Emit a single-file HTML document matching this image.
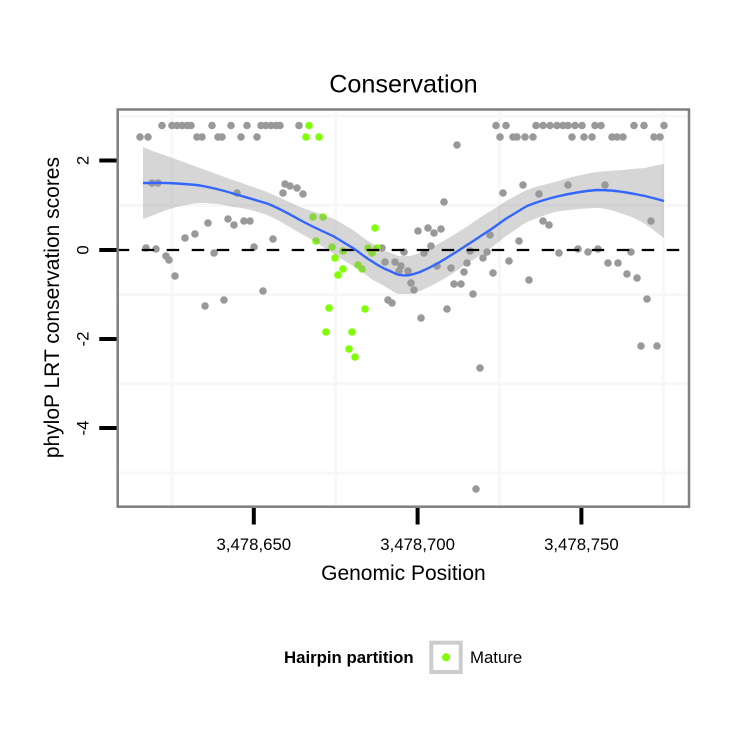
<!DOCTYPE html>
<html>
<head>
<meta charset="utf-8">
<style>
html,body{margin:0;padding:0;background:#fff;}
svg{display:block;}
text{font-family:"Liberation Sans",Arial,sans-serif;fill:#000;}
</style>
</head>
<body>
<svg width="750" height="750" viewBox="0 0 750 750" xmlns="http://www.w3.org/2000/svg">
<defs>
<clipPath id="pc"><rect x="117.7" y="109.5" width="571.3" height="397.2"/></clipPath>
</defs>
<rect width="750" height="750" fill="#fff"/>

<!-- title -->
<text x="403.4" y="92.5" font-size="25.2" text-anchor="middle">Conservation</text>

<g clip-path="url(#pc)">
<!-- gridlines -->
<g stroke="#f7f7f7" stroke-width="3">
<line x1="172" y1="105" x2="172" y2="510"/>
<line x1="335.7" y1="105" x2="335.7" y2="510"/>
<line x1="499.5" y1="105" x2="499.5" y2="510"/>
<line x1="663.3" y1="105" x2="663.3" y2="510"/>
<line x1="115" y1="116.2" x2="692" y2="116.2"/>
<line x1="115" y1="205.4" x2="692" y2="205.4"/>
<line x1="115" y1="294.6" x2="692" y2="294.6"/>
<line x1="115" y1="383.8" x2="692" y2="383.8"/>
<line x1="115" y1="473" x2="692" y2="473"/>
</g>

<!-- grey points -->
<g fill="#999999">
<circle cx="162" cy="125.5" r="3.8"/><circle cx="172" cy="125.5" r="3.8"/><circle cx="177" cy="125.5" r="3.8"/><circle cx="182" cy="125.5" r="3.8"/><circle cx="187" cy="125.5" r="3.8"/><circle cx="191" cy="125.5" r="3.8"/><circle cx="212" cy="125.5" r="3.8"/><circle cx="231" cy="125.5" r="3.8"/><circle cx="247" cy="125.5" r="3.8"/><circle cx="261" cy="125.5" r="3.8"/><circle cx="266" cy="125.5" r="3.8"/><circle cx="271" cy="125.5" r="3.8"/><circle cx="276" cy="125.5" r="3.8"/><circle cx="280" cy="125.5" r="3.8"/><circle cx="299" cy="125.5" r="3.8"/>
<circle cx="140" cy="137" r="3.8"/><circle cx="148" cy="137" r="3.8"/><circle cx="197" cy="137" r="3.8"/><circle cx="202" cy="137" r="3.8"/><circle cx="218" cy="137" r="3.8"/><circle cx="222" cy="137" r="3.8"/><circle cx="241" cy="137" r="3.8"/><circle cx="257" cy="137" r="3.8"/>
<circle cx="496" cy="125.5" r="3.8"/><circle cx="506" cy="125.5" r="3.8"/><circle cx="536" cy="125.5" r="3.8"/><circle cx="543" cy="125.5" r="3.8"/><circle cx="550" cy="125.5" r="3.8"/><circle cx="557" cy="125.5" r="3.8"/><circle cx="563" cy="125.5" r="3.8"/><circle cx="568" cy="125.5" r="3.8"/><circle cx="575" cy="125.5" r="3.8"/><circle cx="582" cy="125.5" r="3.8"/><circle cx="595" cy="125.5" r="3.8"/><circle cx="601" cy="125.5" r="3.8"/><circle cx="634" cy="125.5" r="3.8"/><circle cx="644" cy="125.5" r="3.8"/><circle cx="664" cy="125.5" r="3.8"/>
<circle cx="500" cy="137" r="3.8"/><circle cx="513" cy="137" r="3.8"/><circle cx="517" cy="137" r="3.8"/><circle cx="525" cy="137" r="3.8"/><circle cx="533" cy="137" r="3.8"/><circle cx="572" cy="137" r="3.8"/><circle cx="584" cy="137" r="3.8"/><circle cx="592" cy="137" r="3.8"/><circle cx="612" cy="137" r="3.8"/><circle cx="617" cy="137" r="3.8"/><circle cx="623" cy="137" r="3.8"/><circle cx="654" cy="137" r="3.8"/><circle cx="660" cy="137" r="3.8"/>
<circle cx="152" cy="183" r="3.8"/><circle cx="158" cy="183" r="3.8"/><circle cx="146" cy="248" r="3.8"/><circle cx="156" cy="249" r="3.8"/><circle cx="166" cy="256" r="3.8"/><circle cx="169" cy="260" r="3.8"/><circle cx="175" cy="276" r="3.8"/><circle cx="185" cy="238" r="3.8"/><circle cx="195" cy="234" r="3.8"/><circle cx="205" cy="306" r="3.8"/><circle cx="208" cy="223" r="3.8"/><circle cx="214" cy="253" r="3.8"/><circle cx="224" cy="300" r="3.8"/><circle cx="228" cy="219" r="3.8"/><circle cx="234" cy="225" r="3.8"/><circle cx="244" cy="221" r="3.8"/><circle cx="250" cy="221" r="3.8"/><circle cx="254" cy="247" r="3.8"/><circle cx="263" cy="291" r="3.8"/><circle cx="273" cy="239" r="3.8"/><circle cx="237" cy="193" r="3.8"/><circle cx="283" cy="193" r="3.8"/><circle cx="285" cy="184" r="3.8"/><circle cx="290" cy="186" r="3.8"/><circle cx="297" cy="188" r="3.8"/><circle cx="303" cy="194" r="3.8"/>
<circle cx="382" cy="248" r="3.8"/><circle cx="385" cy="262" r="3.8"/><circle cx="388" cy="300" r="3.8"/><circle cx="392" cy="303" r="3.8"/><circle cx="395" cy="262" r="3.8"/><circle cx="399" cy="271" r="3.8"/><circle cx="401" cy="266" r="3.8"/><circle cx="404" cy="252" r="3.8"/><circle cx="408" cy="271" r="3.8"/><circle cx="411" cy="283" r="3.8"/><circle cx="414" cy="290" r="3.8"/><circle cx="418" cy="231" r="3.8"/><circle cx="421" cy="318" r="3.8"/><circle cx="424" cy="253" r="3.8"/><circle cx="428" cy="228" r="3.8"/><circle cx="431" cy="246" r="3.8"/><circle cx="434" cy="233" r="3.8"/><circle cx="437" cy="266" r="3.8"/><circle cx="441" cy="229" r="3.8"/><circle cx="444" cy="202" r="3.8"/><circle cx="447" cy="309" r="3.8"/><circle cx="451" cy="268" r="3.8"/><circle cx="454" cy="284" r="3.8"/><circle cx="457" cy="145" r="3.8"/><circle cx="461" cy="284" r="3.8"/><circle cx="464" cy="272" r="3.8"/><circle cx="467" cy="263" r="3.8"/><circle cx="470" cy="251" r="3.8"/><circle cx="473" cy="294" r="3.8"/><circle cx="476" cy="489" r="3.8"/><circle cx="480" cy="368" r="3.8"/><circle cx="483" cy="258" r="3.8"/><circle cx="487" cy="252" r="3.8"/><circle cx="490" cy="235" r="3.8"/><circle cx="493" cy="273" r="3.8"/><circle cx="503" cy="193" r="3.8"/><circle cx="509" cy="261" r="3.8"/><circle cx="519" cy="241" r="3.8"/><circle cx="523" cy="185" r="3.8"/><circle cx="529" cy="280" r="3.8"/><circle cx="539" cy="194" r="3.8"/><circle cx="543" cy="221" r="3.8"/><circle cx="549" cy="225" r="3.8"/><circle cx="559" cy="253" r="3.8"/><circle cx="568" cy="185" r="3.8"/><circle cx="578" cy="249" r="3.8"/><circle cx="588" cy="252" r="3.8"/><circle cx="598" cy="249" r="3.8"/><circle cx="605" cy="185" r="3.8"/><circle cx="608" cy="263" r="3.8"/><circle cx="618" cy="263" r="3.8"/><circle cx="627" cy="274" r="3.8"/><circle cx="631" cy="252" r="3.8"/><circle cx="637" cy="278" r="3.8"/><circle cx="641" cy="346" r="3.8"/><circle cx="647" cy="299" r="3.8"/><circle cx="651" cy="221" r="3.8"/><circle cx="657" cy="346" r="3.8"/>
</g>

<!-- green points -->
<g fill="#7fff00">
<circle cx="309" cy="125.5" r="3.8"/><circle cx="306" cy="137" r="3.8"/><circle cx="319" cy="137" r="3.8"/><circle cx="313" cy="217" r="3.8"/><circle cx="323" cy="217" r="3.8"/><circle cx="375" cy="228" r="3.8"/><circle cx="316" cy="241" r="3.8"/><circle cx="332" cy="247" r="3.8"/><circle cx="343" cy="251" r="3.8"/><circle cx="335" cy="258" r="3.8"/><circle cx="368" cy="248" r="3.8"/><circle cx="377" cy="248" r="3.8"/><circle cx="372" cy="253" r="3.8"/><circle cx="343" cy="269" r="3.8"/><circle cx="338" cy="275" r="3.8"/><circle cx="358" cy="265" r="3.8"/><circle cx="362" cy="269" r="3.8"/><circle cx="329" cy="308" r="3.8"/><circle cx="365" cy="309" r="3.8"/><circle cx="326" cy="332" r="3.8"/><circle cx="352" cy="332" r="3.8"/><circle cx="349" cy="349" r="3.8"/><circle cx="355" cy="357" r="3.8"/>
</g>

<!-- confidence ribbon -->
<path fill="#999999" fill-opacity="0.4" d="M143,147 C152,151 158,153 167,156 C178,160 189,164 200,168 C211,172 222,176 233,180 C245,184 256,188 267,192 C279,197 289,202 300,207 C311,211 322,214 333,218.5 C340,222 346,226 353,230 C360,235 366,240 373,244 C379,248 384,251 390,252.5 C394,254 397,256 400,256 C403,256 407,256 410,256 C414,255 417,254 420,253 C427,250 433,247 440,243 C449,238 458,232 467,226.5 C475,221 482,216 490,211.5 C496,208 501,204 507,200.5 C514,197 520,193 527,190 C537,186 547,184 557,181.5 C570,177 584,174 597,172 C606,171 614,170.5 623,170 C630,169 637,168.5 645,168 C651,166.5 657,165 664,164 L664,238 C657,233 651,228 645,224 C637,219 630,216 623,214 C614,211 606,208 597,208 C584,208 570,210 557,211.5 C547,214 537,218 527,222 C520,226 514,231 507,235.5 C501,240 496,244 490,248.5 C482,254 475,259 467,263.5 C458,270 449,276 440,281 C433,285 427,288 420,291 C417,292 414,293 410,294 C407,294 403,294 400,294 C397,294 394,292 390,289.5 C384,286 379,283 373,280 C366,275 360,270 353,266 C346,262 340,258 333,253.5 C322,246 311,239 300,233 C289,227 279,220 267,215 C256,211 245,208 233,207 C222,204 211,203 200,203 C189,204 178,206 167,210 C158,213 152,216 143,219 Z"/>

<!-- zero line -->
<line x1="116.7" y1="250" x2="692" y2="250" stroke="#000" stroke-width="2.2" stroke-dasharray="12.5 12.5"/>

<!-- loess -->
<path fill="none" stroke="#3366ff" stroke-width="2.4" d="M143,183 C155,183 160,182.5 167,183 C178,183.5 189,184 200,185.5 C211,187.5 222,190 233,193.5 C245,197 256,200 267,203.5 C279,208 289,214 300,220 C311,226 322,231 333,236 C340,240 346,244 353,248 C360,253 366,258 373,262 C379,266 384,269 390,271 C394,273 397,275 400,275 C403,275.5 407,275.5 410,275 C414,274 417,273 420,272 C427,269 433,266 440,262 C449,256.5 458,251 467,245 C475,240 482,235 490,230 C496,226 501,222 507,218 C514,214 520,210 527,206 C537,202 547,199 557,196.5 C570,193.5 584,191 597,190 C606,190 614,190.5 623,192 C630,193 637,194.5 645,196 C651,197.5 657,199 664,201"/>
</g>

<!-- panel border -->
<rect x="117.7" y="109.5" width="571.3" height="397.2" fill="none" stroke="#7f7f7f" stroke-width="2.5"/>

<!-- y ticks -->
<g stroke="#000" stroke-width="4">
<line x1="99.3" y1="160.5" x2="116.5" y2="160.5"/>
<line x1="99.3" y1="250" x2="116.5" y2="250"/>
<line x1="99.3" y1="339" x2="116.5" y2="339"/>
<line x1="99.3" y1="428" x2="116.5" y2="428"/>
</g>
<g font-size="16.8" text-anchor="middle">
<text transform="translate(88.3,160.5) rotate(-90)">2</text>
<text transform="translate(88.3,250) rotate(-90)">0</text>
<text transform="translate(88.3,339) rotate(-90)">-2</text>
<text transform="translate(88.3,428) rotate(-90)">-4</text>
</g>
<text transform="translate(59,307.6) rotate(-90)" font-size="21" text-anchor="middle">phyloP LRT conservation scores</text>

<!-- x ticks -->
<g stroke="#000" stroke-width="4">
<line x1="253.8" y1="508" x2="253.8" y2="524.5"/>
<line x1="417.6" y1="508" x2="417.6" y2="524.5"/>
<line x1="581.4" y1="508" x2="581.4" y2="524.5"/>
</g>
<g font-size="16.8" text-anchor="middle">
<text x="253.8" y="550">3,478,650</text>
<text x="417.6" y="550">3,478,700</text>
<text x="581.4" y="550">3,478,750</text>
</g>
<text x="403.4" y="580" font-size="21" text-anchor="middle">Genomic Position</text>

<!-- legend -->
<text x="284" y="663" font-size="16.8" font-weight="bold">Hairpin partition</text>
<rect x="431.3" y="642.7" width="29.4" height="29.3" fill="#fff" stroke="#cccccc" stroke-width="4"/>
<circle cx="446" cy="657.3" r="4" fill="#7fff00"/>
<text x="470" y="663" font-size="16.8">Mature</text>
</svg>
</body>
</html>
